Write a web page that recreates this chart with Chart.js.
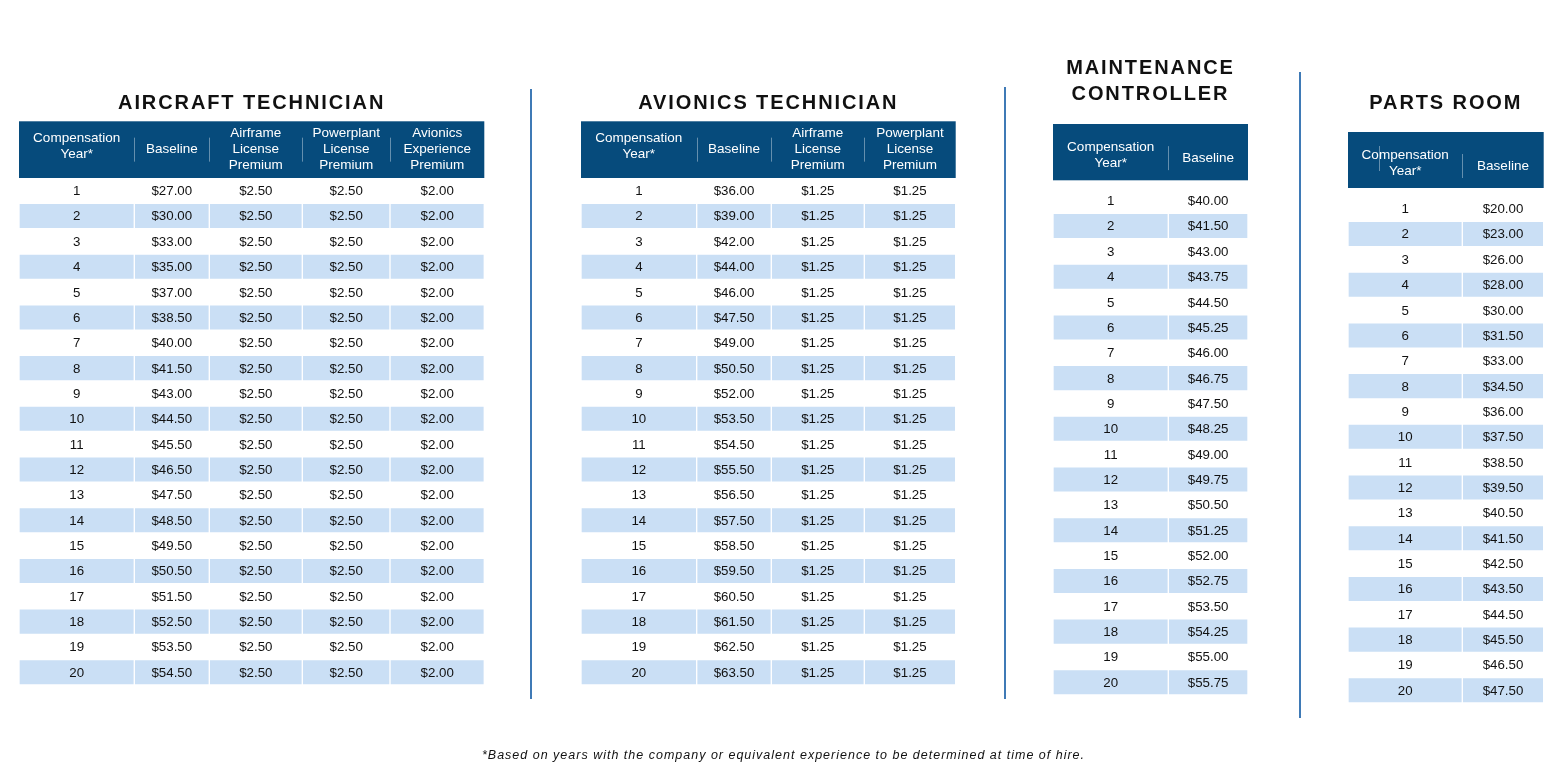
<!DOCTYPE html>
<html>
<head>
<meta charset="utf-8">
<script src="https://cdn.jsdelivr.net/npm/chart.js@4.4.1/dist/chart.umd.min.js"></script>
<style>
  html, body { margin: 0; padding: 0; background: #ffffff; width: 1567px; height: 783px; overflow: hidden; }
  #wrap { position: relative; width: 1567px; height: 783px; }
  #wrap canvas { position: absolute; left: 0; top: 0; }
  .divider { position: absolute; width: 2px; background: #3f7ab6; }
  #note { position: absolute; left: 0; top: 748px; width: 1567px; text-align: center;
          font: italic 12.5px/15px "Liberation Sans", Arial, sans-serif; letter-spacing: 1px; color: #111; }
</style>
</head>
<body>
<div id="wrap">
  <canvas id="c1" width="1567" height="783"></canvas>
  <canvas id="c2" width="1567" height="783"></canvas>
  <canvas id="c3" width="1567" height="783"></canvas>
  <canvas id="c4" width="1567" height="783"></canvas>
  <div class="divider" style="left:530px; top:89px; height:610px;"></div>
  <div class="divider" style="left:1004px; top:87px; height:612px;"></div>
  <div class="divider" style="left:1299px; top:72px; height:646px;"></div>
  <div id="note">*Based on years with the company or equivalent experience to be determined at time of hire.</div>
</div>
<script>
// ---------------- DATA ----------------
const years = [1, 2, 3, 4, 5, 6, 7, 8, 9, 10, 11, 12, 13, 14, 15, 16, 17, 18, 19, 20];

const aircraftBaseline   = [27.00, 30.00, 33.00, 35.00, 37.00, 38.50, 40.00, 41.50, 43.00, 44.50, 45.50, 46.50, 47.50, 48.50, 49.50, 50.50, 51.50, 52.50, 53.50, 54.50];
const aircraftAirframe   = [2.50, 2.50, 2.50, 2.50, 2.50, 2.50, 2.50, 2.50, 2.50, 2.50, 2.50, 2.50, 2.50, 2.50, 2.50, 2.50, 2.50, 2.50, 2.50, 2.50];
const aircraftPowerplant = [2.50, 2.50, 2.50, 2.50, 2.50, 2.50, 2.50, 2.50, 2.50, 2.50, 2.50, 2.50, 2.50, 2.50, 2.50, 2.50, 2.50, 2.50, 2.50, 2.50];
const aircraftAvionics   = [2.00, 2.00, 2.00, 2.00, 2.00, 2.00, 2.00, 2.00, 2.00, 2.00, 2.00, 2.00, 2.00, 2.00, 2.00, 2.00, 2.00, 2.00, 2.00, 2.00];

const avionicsBaseline   = [36.00, 39.00, 42.00, 44.00, 46.00, 47.50, 49.00, 50.50, 52.00, 53.50, 54.50, 55.50, 56.50, 57.50, 58.50, 59.50, 60.50, 61.50, 62.50, 63.50];
const avionicsAirframe   = [1.25, 1.25, 1.25, 1.25, 1.25, 1.25, 1.25, 1.25, 1.25, 1.25, 1.25, 1.25, 1.25, 1.25, 1.25, 1.25, 1.25, 1.25, 1.25, 1.25];
const avionicsPowerplant = [1.25, 1.25, 1.25, 1.25, 1.25, 1.25, 1.25, 1.25, 1.25, 1.25, 1.25, 1.25, 1.25, 1.25, 1.25, 1.25, 1.25, 1.25, 1.25, 1.25];

const maintenanceBaseline = [40.00, 41.50, 43.00, 43.75, 44.50, 45.25, 46.00, 46.75, 47.50, 48.25, 49.00, 49.75, 50.50, 51.25, 52.00, 52.75, 53.50, 54.25, 55.00, 55.75];

const partsBaseline = [20.00, 23.00, 26.00, 28.00, 30.00, 31.50, 33.00, 34.50, 36.00, 37.50, 38.50, 39.50, 40.50, 41.50, 42.50, 43.50, 44.50, 45.50, 46.50, 47.50];

const aircraftTitle    = ['AIRCRAFT TECHNICIAN'];
const avionicsTitle    = ['AVIONICS TECHNICIAN'];
const maintenanceTitle = ['MAINTENANCE', 'CONTROLLER'];
const partsTitle       = ['PARTS ROOM'];

const aircraftHeaders = [['Compensation', 'Year*'], ['Baseline'], ['Airframe', 'License', 'Premium'], ['Powerplant', 'License', 'Premium'], ['Avionics', 'Experience', 'Premium']];
const avionicsHeaders = [['Compensation', 'Year*'], ['Baseline'], ['Airframe', 'License', 'Premium'], ['Powerplant', 'License', 'Premium']];
const maintenanceHeaders = [['Compensation', 'Year*'], ['Baseline']];
const partsHeaders = [['Compensation', 'Year*'], ['Baseline']];

// ---------------- LAYOUT / STYLE ----------------
const W = 1567, H = 783;
const HEADER_BG = '#064b7c';
const STRIPE = '#cadff5';
const STRIPE_EDGE = 'rgba(255,255,255,0.5)';
const TEXT = '#111111';
const FONT = '"Liberation Sans", Arial, Helvetica, sans-serif';
const TITLE_SPACING = '1.9px';

const LAYOUT = {
  aircraft:    { left: 19,   colWidths: [115.3, 75, 93, 87.7, 94.3], rowsTop: 178, rowsBottom: 685,
                 headerH: 56.7, headerGap: 0,   titleTop: 91.3, titleLH: 24,
                 textDy: [-3, 0, 0, 0, 0], sepDy: 0, extraSeps: [] },
  avionics:    { left: 581,  colWidths: [115.7, 74.6, 93, 91.4], rowsTop: 178, rowsBottom: 685,
                 headerH: 56.7, headerGap: 0,   titleTop: 91.3, titleLH: 24,
                 textDy: [-3, 0, 0, 0], sepDy: 0, extraSeps: [] },
  maintenance: { left: 1053, colWidths: [115.3, 79.7], rowsTop: 188, rowsBottom: 695,
                 headerH: 56.3, headerGap: 7.7, titleTop: 55.5, titleLH: 25.8,
                 textDy: [3.4, 6], sepDy: 6, extraSeps: [] },
  parts:       { left: 1348, colWidths: [114.3, 81.4], rowsTop: 196, rowsBottom: 703,
                 headerH: 56, headerGap: 8, titleTop: 91.3, titleLH: 24,
                 textDy: [3.5, 6.6], sepDy: 6, extraSeps: [{ x: 31, y0: 14, y1: 39 }] }
};

const TABLES = [
  { canvas: 'c1', title: aircraftTitle, headers: aircraftHeaders, layout: LAYOUT.aircraft,
    columns: [years, aircraftBaseline, aircraftAirframe, aircraftPowerplant, aircraftAvionics] },
  { canvas: 'c2', title: avionicsTitle, headers: avionicsHeaders, layout: LAYOUT.avionics,
    columns: [years, avionicsBaseline, avionicsAirframe, avionicsPowerplant] },
  { canvas: 'c3', title: maintenanceTitle, headers: maintenanceHeaders, layout: LAYOUT.maintenance,
    columns: [years, maintenanceBaseline] },
  { canvas: 'c4', title: partsTitle, headers: partsHeaders, layout: LAYOUT.parts,
    columns: [years, partsBaseline] }
];

function fmt(v, colIndex) {
  return colIndex === 0 ? String(v) : '$' + v.toFixed(2);
}

function makeTablePlugin(t, edges, total) {
  const L = t.layout;
  return {
    id: 'tableDecor',
    beforeDraw(chart) {
      chart.ctx.letterSpacing = TITLE_SPACING; // applies to the built-in title
    },
    beforeDatasetsDraw(chart) {
      const { ctx, chartArea } = chart;
      const x = chart.scales.x;
      ctx.save();
      ctx.letterSpacing = '0px';
      const hTop = chartArea.top - L.headerGap - L.headerH;
      const x0 = x.getPixelForValue(0), x1 = x.getPixelForValue(total);
      ctx.fillStyle = HEADER_BG;
      ctx.fillRect(x0, hTop, x1 - x0, L.headerH);
      const hMid = hTop + L.headerH / 2;
      // header separators
      ctx.strokeStyle = 'rgba(255,255,255,0.38)';
      ctx.lineWidth = 1;
      for (let i = 1; i < edges.length - 1; i++) {
        const px = Math.round(x.getPixelForValue(edges[i])) + 0.5;
        ctx.beginPath();
        ctx.moveTo(px, hMid + L.sepDy - 12);
        ctx.lineTo(px, hMid + L.sepDy + 12);
        ctx.stroke();
      }
      L.extraSeps.forEach(s => {
        const px = Math.round(x.getPixelForValue(s.x)) + 0.5;
        ctx.beginPath();
        ctx.moveTo(px, hTop + s.y0);
        ctx.lineTo(px, hTop + s.y1);
        ctx.stroke();
      });
      // header text
      ctx.font = '13.5px ' + FONT;
      ctx.fillStyle = '#ffffff';
      ctx.textAlign = 'center';
      ctx.textBaseline = 'middle';
      t.headers.forEach((lines, ci) => {
        const cx = (x.getPixelForValue(edges[ci]) + x.getPixelForValue(edges[ci + 1])) / 2;
        const cy = hMid + L.textDy[ci];
        lines.forEach((ln, li) => {
          ctx.fillText(ln, cx, cy + (li - (lines.length - 1) / 2) * 16);
        });
      });
      ctx.restore();
      chart.ctx.letterSpacing = '0px';
    },
    afterDatasetsDraw(chart) {
      const ctx = chart.ctx;
      ctx.save();
      ctx.letterSpacing = '0px';
      ctx.font = '13.3px ' + FONT;
      ctx.fillStyle = TEXT;
      ctx.textAlign = 'center';
      ctx.textBaseline = 'middle';
      chart.data.datasets.forEach((ds, di) => {
        const meta = chart.getDatasetMeta(di);
        meta.data.forEach((el, ri) => {
          const p = el.getProps(['x', 'base', 'y'], true);
          ctx.fillText(ds.values[ri], (p.x + p.base) / 2, p.y + 0.8);
        });
      });
      ctx.restore();
    }
  };
}

function buildTable(t) {
  const L = t.layout;
  const edges = [0];
  L.colWidths.forEach(w => edges.push(edges[edges.length - 1] + w));
  const total = edges[edges.length - 1];

  const datasets = t.columns.map((col, ci) => ({
    label: t.headers[ci].join(' '),
    data: col.map(() => [edges[ci], edges[ci + 1]]),
    values: col.map(v => fmt(v, ci)),
    backgroundColor: c => (c.dataIndex % 2 === 1 ? STRIPE : 'rgba(0,0,0,0)'),
    borderColor: c => (c.dataIndex % 2 === 1 ? STRIPE_EDGE : 'rgba(0,0,0,0)'),
    borderWidth: 1,
    borderSkipped: false,
    barPercentage: 1,
    categoryPercentage: 1,
    grouped: false
  }));

  const nLines = t.title.length;
  new Chart(document.getElementById(t.canvas), {
    type: 'bar',
    data: { labels: t.columns[0].map(String), datasets },
    options: {
      indexAxis: 'y',
      responsive: false,
      animation: false,
      devicePixelRatio: 1,
      events: [],
      layout: { padding: { left: L.left, right: W - L.left - total, top: 0, bottom: H - L.rowsBottom } },
      scales: {
        x: { type: 'linear', min: 0, max: total, display: false },
        y: { type: 'category', display: false, offset: true }
      },
      plugins: {
        legend: { display: false },
        tooltip: { enabled: false },
        title: {
          display: true,
          text: t.title,
          color: '#111111',
          font: { family: FONT, size: 20, weight: 'bold', lineHeight: L.titleLH / 20 },
          padding: { top: L.titleTop, bottom: L.rowsTop - L.titleTop - nLines * L.titleLH }
        }
      }
    },
    plugins: [makeTablePlugin(t, edges, total)]
  });
}

TABLES.forEach(buildTable);
</script>
</body>
</html>
